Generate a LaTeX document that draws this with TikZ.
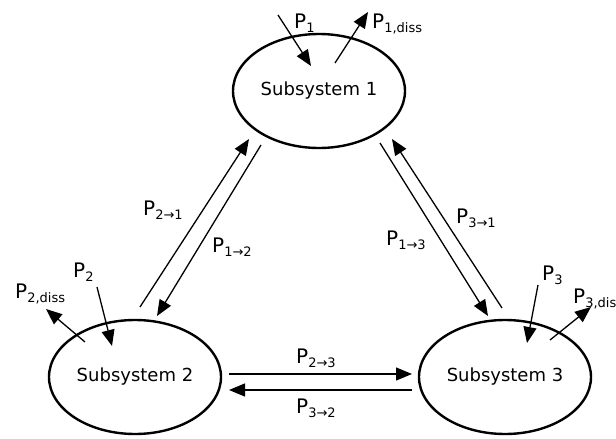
\documentclass[tikz,border=0pt]{standalone}
\usepackage{fontspec}
\setmainfont{DejaVu Sans}
\usetikzlibrary{arrows.meta,shapes.geometric}
\newcommand{\pw}[1]{{\fontsize{20}{22}\selectfont P}\raisebox{-0.45ex}{\fontsize{13}{14}\selectfont #1}}
\begin{document}
\begin{tikzpicture}
[x=1pt, y=-1pt,
 every node/.style={font=\fontsize{18}{20}\selectfont},
 sys/.style={shape=ellipse, draw, line width=2.4pt, minimum width=172pt, minimum height=114pt, inner sep=0pt},
 lbl/.style={anchor=base west, inner sep=0pt},
 flow/.style={line width=1.3pt, -{Triangle[length=16pt,width=13pt]}}]
\useasboundingbox (0,0) rectangle (616,439);
\node (1) at (319,91) [sys] {Subsystem 1};
\node (2) at (135,377) [sys] {Subsystem 2};
\node (3) at (505,377) [sys] {Subsystem 3};
% power in and out
\coordinate (a1) at (278,15);  \coordinate (b1) at (311,66);
\coordinate (c1) at (335,63);  \coordinate (d1) at (368,12);
\coordinate (a2) at (97,287);  \coordinate (b2) at (112,346);
\coordinate (c2) at (85,342);  \coordinate (d2) at (46,309);
\coordinate (a3) at (538,285); \coordinate (b3) at (527,343);
\coordinate (c3) at (550,340); \coordinate (d3) at (591,307);
% exchange between subsystems
\coordinate (e21) at (140,307); \coordinate (f21) at (249,139);
\coordinate (e12) at (261,145); \coordinate (f12) at (157,316);
\coordinate (e13) at (380,143); \coordinate (f13) at (488,316);
\coordinate (e31) at (502,308); \coordinate (f31) at (392,139);
\coordinate (e23) at (229,374); \coordinate (f23) at (412,374);
\coordinate (e32) at (412,390); \coordinate (f32) at (229,390);
\draw [flow] (a1) -- (b1);
\draw [flow] (c1) -- (d1);
\draw [flow] (a2) -- (b2);
\draw [flow] (c2) -- (d2);
\draw [flow] (a3) -- (b3);
\draw [flow] (c3) -- (d3);
\draw [flow] (e21) -- (f21);
\draw [flow] (e12) -- (f12);
\draw [flow] (e13) -- (f13);
\draw [flow] (e31) -- (f31);
\draw [flow] (e23) -- (f23);
\draw [flow] (e32) -- (f32);
\node (p1) at (294,28) [lbl] {\pw{1}};
\node (p1d) at (372,28) [lbl] {\pw{1,diss}};
\node (p2) at (73,277) [lbl] {\pw{2}};
\node (p2d) at (15,298) [lbl] {\pw{2,diss}};
\node (p3) at (542,280) [lbl] {\pw{3}};
\node (p3d) at (573,303) [lbl] {\pw{3,diss}};
\node (p21) at (143,215) [lbl] {\pw{2→1}};
\node (p12) at (212,252) [lbl] {\pw{1→2}};
\node (p13) at (386,245) [lbl] {\pw{1→3}};
\node (p31) at (456,223) [lbl] {\pw{3→1}};
\node (p23) at (296,363) [lbl] {\pw{2→3}};
\node (p32) at (296,413) [lbl] {\pw{3→2}};
\end{tikzpicture}
\end{document}
